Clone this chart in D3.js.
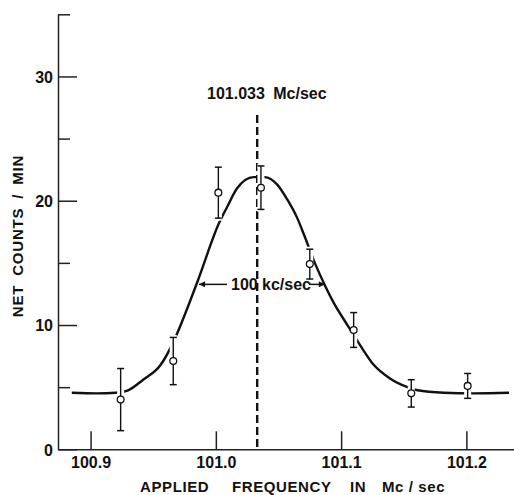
<!DOCTYPE html>
<html>
<head>
<meta charset="utf-8">
<script src="https://cdn.jsdelivr.net/npm/d3@7"></script>
<style>
  body { margin: 0; background: #fff; }
  text { font-family: "Liberation Sans", Arial, sans-serif; font-weight: bold; fill: #111; }
</style>
</head>
<body>
<svg id="chart"></svg>
<script>
// measured points with error bars
const freq   = [100.924, 100.966, 101.002, 101.036, 101.075, 101.110, 101.156, 101.201];
const counts = [4.0, 7.1, 20.65, 21.05, 14.9, 9.6, 4.5, 5.1];
const errors = [2.5, 1.9, 2.05, 1.75, 1.2, 1.4, 1.1, 1.0];

// fitted resonance curve
const fitX = [100.885, 100.905, 100.920, 100.930, 100.942, 100.956, 100.964, 100.969, 100.985,
              101.003, 101.009, 101.017, 101.030, 101.039, 101.049, 101.057, 101.065, 101.071,
              101.079, 101.087, 101.094, 101.105, 101.115, 101.126, 101.139, 101.153, 101.161,
              101.182, 101.206, 101.234];
const fitY = [4.55, 4.5, 4.55, 4.75, 5.6, 6.8, 8.2, 9.3, 13.4,
              18.3, 19.5, 21.0, 21.9, 21.9, 21.3, 20.1, 18.6, 17.1,
              15.0, 13.2, 11.8, 10.0, 8.4, 6.8, 5.7, 5.0, 4.75,
              4.55, 4.5, 4.55];

const xTicks = [100.9, 101.0, 101.1, 101.2];
const yMajor = [0, 10, 20, 30];
const yMinor = [5, 15, 25, 35];

const centerFreq = 101.033;
const halfWidth = { left: 100.985, right: 101.087, level: 13.27 };

const W = 514, H = 495;
const svg = d3.select("#chart").attr("width", W).attr("height", H);

const x = d3.scaleLinear().domain([100.874, 101.238]).range([58, 514]);
const y = d3.scaleLinear().domain([0, 35]).range([449.3, 14.3]);

// y axis: labelled major ticks, short minor ticks, all pointing in
const yAx = svg.append("g").attr("transform", "translate(58,0)")
    .call(d3.axisLeft(y).tickValues(yMajor).tickSizeInner(-19).tickSizeOuter(0).tickPadding(5)
        .tickFormat(d3.format("d")));
svg.append("g").attr("transform", "translate(58,0)")
    .call(d3.axisLeft(y).tickValues(yMinor).tickSizeInner(-12).tickSizeOuter(0).tickFormat(""))
    .select(".domain").remove();

const xAx = svg.append("g").attr("transform", "translate(0,449.3)")
    .call(d3.axisBottom(x).tickValues(xTicks).tickSizeInner(-18).tickSizeOuter(0).tickPadding(7)
        .tickFormat(d3.format(".1f")));

svg.selectAll(".domain, .tick line").attr("stroke", "#222").attr("stroke-width", 1.5);
svg.selectAll(".tick text").attr("font-size", 16).attr("fill", "#111")
    .style("font-family", "Liberation Sans, Arial, sans-serif").style("font-weight", "bold");
yAx.selectAll(".tick text").attr("dy", "0.36em");

// fitted curve
const line = d3.line().x(d => x(d[0])).y(d => y(d[1])).curve(d3.curveMonotoneX);
svg.append("path")
    .attr("d", line(d3.zip(fitX, fitY)))
    .attr("fill", "none").attr("stroke", "#111").attr("stroke-width", 2.4);

// center line
svg.append("line")
    .attr("x1", x(centerFreq)).attr("x2", x(centerFreq))
    .attr("y1", y(26.9)).attr("y2", y(0))
    .attr("stroke", "#111").attr("stroke-width", 2.4).attr("stroke-dasharray", "8,4");

svg.append("text").attr("x", 207).attr("y", 99).attr("font-size", 16)
    .attr("word-spacing", 4)
    .text("101.033 Mc/sec");

// error bars with white halos that break the curve
const pts = d3.range(freq.length).map(i => ({ f: freq[i], c: counts[i], e: errors[i] }));
const bars = svg.append("g").selectAll("g").data(pts).join("g");
["#fff", "#111"].forEach((col, k) => {
  const w = k === 0 ? 7 : 1.4;
  bars.append("line").attr("x1", d => x(d.f)).attr("x2", d => x(d.f))
      .attr("y1", d => y(d.c + d.e)).attr("y2", d => y(d.c - d.e))
      .attr("stroke", col).attr("stroke-width", w);
  [1, -1].forEach(s => {
    bars.append("line")
        .attr("x1", d => x(d.f) - 3.5).attr("x2", d => x(d.f) + 3.5)
        .attr("y1", d => y(d.c + s * d.e)).attr("y2", d => y(d.c + s * d.e))
        .attr("stroke", col).attr("stroke-width", k === 0 ? 5 : 1.5);
  });
});
bars.append("circle").attr("cx", d => x(d.f)).attr("cy", d => y(d.c)).attr("r", 3.4)
    .attr("fill", "#fff").attr("stroke", "#111").attr("stroke-width", 1.3);

// width annotation
const defs = svg.append("defs");
defs.append("marker").attr("id", "arr").attr("viewBox", "0 0 10 10")
    .attr("refX", 10).attr("refY", 5).attr("markerWidth", 8).attr("markerHeight", 6)
    .attr("markerUnits", "userSpaceOnUse").attr("orient", "auto")
  .append("path").attr("d", "M0,0 L10,5 L0,10 Z").attr("fill", "#111");

const ay = y(halfWidth.level);
svg.append("line").attr("x1", 227).attr("x2", x(halfWidth.left) + 2)
    .attr("y1", ay).attr("y2", ay).attr("stroke", "#111").attr("stroke-width", 1.5)
    .attr("marker-end", "url(#arr)");
svg.append("line").attr("x1", 309).attr("x2", x(halfWidth.right))
    .attr("y1", ay).attr("y2", ay).attr("stroke", "#111").attr("stroke-width", 1.5)
    .attr("marker-end", "url(#arr)");
const kt = svg.append("text").attr("y", ay + 6).attr("font-size", 16);
kt.append("tspan").attr("x", 231).text("100");
kt.append("tspan").attr("x", 262).text("kc/sec");

// axis titles
const xt = svg.append("text").attr("y", 492).attr("font-size", 15).attr("letter-spacing", 0.6);
[["APPLIED", 140], ["FREQUENCY", 232], ["IN", 350], ["Mc / sec", 382]].forEach(([t, px]) =>
  xt.append("tspan").attr("x", px).text(t));

svg.append("text").attr("transform", "translate(23,236) rotate(-90)")
    .attr("text-anchor", "middle").attr("font-size", 15).attr("letter-spacing", 0.8)
    .attr("word-spacing", 4)
    .text("NET  COUNTS / MIN");
</script>
</body>
</html>
